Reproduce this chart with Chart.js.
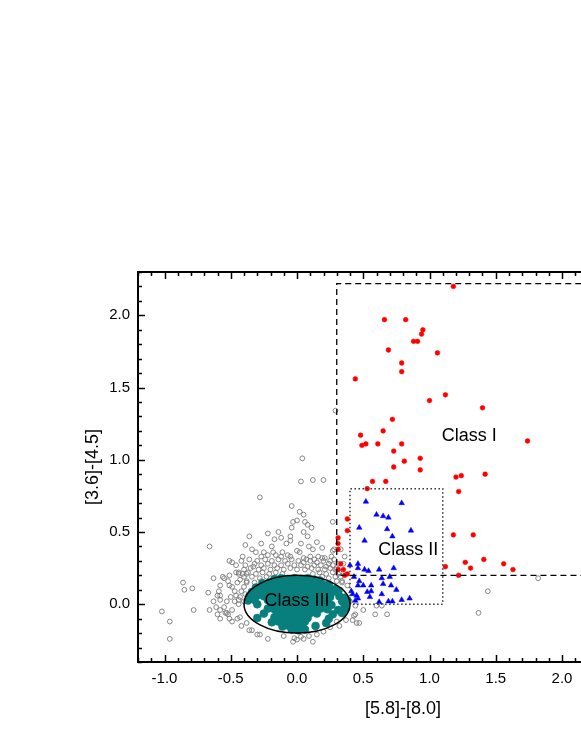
<!DOCTYPE html>
<html>
<head>
<meta charset="utf-8">
<script src="https://cdn.jsdelivr.net/npm/chart.js@4/dist/chart.umd.min.js"></script>
<style>
  body { margin: 0; background: #fff; }
  #wrap { width: 581px; height: 752px; overflow: hidden; position: relative; }
  canvas { position: absolute; left: 0; top: 0; }
</style>
</head>
<body>
<div id="wrap"><canvas id="myChart" width="680" height="752"></canvas></div>
<script>
// axis ranges and ticks
const xMin = -1.2, xMax = 2.8;
const yMin = -0.4, yMax = 2.3;
const xTickVals = [-1.0, -0.5, 0.0, 0.5, 1.0, 1.5, 2.0, 2.5];
const yTickVals = [0.0, 0.5, 1.0, 1.5, 2.0];

// all sources (open grey circles)
const fieldPts = [
  [0.04,1.01],[0.29,1.34],[0.03,0.85],[0.12,0.86],[0.20,0.86],[-0.28,0.74],[-0.04,0.68],[0.02,0.64],[0.05,0.62],
  [-0.03,0.57],[0.00,0.58],[0.06,0.57],[0.08,0.55],[0.11,0.53],[-0.04,0.53],[0.27,0.57],[-0.14,0.50],[-0.12,0.46],
  [-0.05,0.47],[-0.36,0.47],[-0.66,0.40],[-0.22,0.49],[-0.17,0.45],[-0.05,0.44],[0.03,0.42],[0.08,0.47],[-0.27,0.42],
  [-0.19,0.40],[0.15,0.43],[0.05,0.50],
  [-0.39,0.41],[-0.08,0.42],[-0.34,0.38],[-0.31,0.36],[-0.25,0.36],[-0.18,0.36],[-0.11,0.36],[-0.07,0.34],[0.00,0.37],
  [-0.41,0.33],[-0.51,0.30],[-0.49,0.29],[-0.32,0.28],[-0.27,0.33],[-0.22,0.34],[-0.16,0.34],[-0.12,0.33],[-0.05,0.33],
  [0.09,0.40],[0.12,0.38],[0.19,0.39],[0.27,0.37],[0.28,0.38],[0.02,0.36],[0.05,0.32],[0.07,0.31],[0.10,0.33],
  [0.13,0.31],[0.16,0.33],[0.19,0.32],[0.21,0.32],[0.25,0.30],[0.26,0.33],[0.28,0.31],
  [-0.42,0.30],[-0.36,0.31],[-0.30,0.30],[-0.24,0.31],[-0.19,0.30],[-0.14,0.31],[-0.09,0.30],[-0.04,0.31],[0.01,0.30],
  [0.05,0.29],[0.10,0.30],[0.15,0.29],[0.20,0.30],[0.24,0.28],
  [-0.46,0.27],[-0.39,0.27],[-0.33,0.26],[-0.27,0.27],[-0.22,0.28],[-0.17,0.27],[-0.12,0.27],[-0.07,0.28],[-0.02,0.27],
  [0.03,0.27],[0.08,0.26],[0.13,0.27],[0.18,0.27],[0.22,0.26],[0.27,0.27],
  [-0.40,0.24],[-0.35,0.25],[-0.29,0.24],[-0.25,0.25],[-0.20,0.24],[-0.15,0.25],[-0.10,0.24],[-0.05,0.25],[0.00,0.24],
  [0.06,0.24],[0.11,0.25],[0.16,0.24],[0.21,0.24],[0.25,0.25],[0.29,0.24],
  [-0.44,0.22],[-0.37,0.22],[-0.31,0.21],[-0.26,0.22],[-0.21,0.21],[-0.16,0.22],[-0.11,0.21],[0.12,0.21],[0.17,0.22],
  [0.22,0.21],[0.27,0.22],[0.31,0.21],
  [-0.40,0.19],[-0.34,0.19],[-0.28,0.18],[-0.23,0.19],[0.19,0.19],[0.24,0.18],[0.29,0.19],[0.33,0.19],
  [-0.38,0.16],[-0.32,0.15],[-0.27,0.16],[0.24,0.15],[0.30,0.16],[0.34,0.15],
  [-0.86,0.15],[-0.85,0.10],[-0.79,0.11],[-1.02,-0.05],[-0.96,-0.12],[-0.96,-0.24],[-0.78,-0.04],[-0.67,0.08],
  [-0.63,0.18],[-0.56,0.19],[-0.55,0.18],[-0.51,0.20],[-0.46,0.22],[-0.44,0.21],[-0.41,0.21],[-0.38,0.21],
  [-0.59,0.09],[-0.60,0.06],[-0.58,0.06],[-0.58,0.03],[-0.51,0.13],[-0.49,0.12],[-0.50,0.05],[-0.46,0.06],
  [-0.47,0.02],[-0.44,0.03],[-0.44,0.00],[-0.61,-0.02],[-0.58,-0.04],[-0.53,-0.06],[-0.49,-0.04],[-0.52,-0.07],
  [-0.54,-0.06],[-0.58,-0.10],[-0.51,-0.10],[-0.45,-0.10],[-0.43,-0.09],[-0.43,0.05],[-0.42,0.09],[-0.39,0.07],
  [-0.40,0.02],[-0.36,-0.18],[-0.34,-0.18],[-0.38,-0.13],[-0.30,-0.21],[-0.28,-0.21],[-0.22,-0.24],
  [-0.53,0.02],[-0.55,-0.02],[-0.47,0.09],[-0.45,0.15],[-0.52,0.16],[-0.58,0.13],[-0.63,0.02],[-0.66,-0.04],
  [-0.60,-0.07],[-0.49,-0.12],[-0.42,-0.15],[-0.40,0.12],[-0.43,0.17],[-0.38,0.15],
  [0.33,0.10],[0.35,0.05],[0.38,0.13],[0.40,0.02],[0.37,-0.03],[0.34,0.16],[0.30,0.25],[0.32,0.22],[0.35,0.28],
  [0.36,0.33],[0.33,0.38],[0.31,0.28],
  [-0.03,-0.26],[0.05,-0.24],[0.12,-0.26],[-0.02,-0.235],[0.00,-0.245],[0.03,-0.225],[-0.10,-0.22],[0.09,-0.22],
  [0.15,-0.21],[0.20,-0.19],[0.25,-0.16],[0.32,-0.15],[0.37,-0.11],[0.42,-0.11],[0.45,-0.13],[0.47,-0.13],
  [0.44,-0.07],[0.50,-0.04],[0.59,-0.07],[0.68,-0.07],[0.43,-0.08],[0.44,-0.01],[0.64,-0.01],[0.60,-0.01],
  [1.37,-0.06],[1.44,0.09],[1.82,0.18],[0.30,-0.12],[0.36,-0.06]
];

// Class III sources (filled teal)
const class3Pts = [
  [-0.17,0.175],[-0.12,0.18],[-0.07,0.175],[-0.02,0.18],[0.03,0.175],[0.08,0.18],[0.13,0.17],[0.17,0.165],
  [-0.26,0.145],[-0.21,0.15],[-0.16,0.145],[-0.11,0.15],[-0.06,0.145],[-0.01,0.15],[0.04,0.145],[0.09,0.15],
  [0.14,0.145],[0.19,0.14],[0.24,0.135],
  [-0.31,0.115],[-0.26,0.12],[-0.21,0.115],[-0.16,0.12],[-0.11,0.115],[-0.06,0.12],[-0.01,0.115],[0.04,0.12],
  [0.09,0.115],[0.14,0.12],[0.19,0.115],[0.24,0.11],[0.29,0.105],
  [-0.34,0.085],[-0.29,0.09],[-0.24,0.085],[-0.19,0.09],[-0.14,0.085],[-0.09,0.09],[-0.04,0.085],[0.01,0.09],
  [0.06,0.085],[0.11,0.09],[0.16,0.085],[0.21,0.09],[0.26,0.08],[0.31,0.085],
  [-0.36,0.055],[-0.30,0.06],[-0.25,0.055],[-0.20,0.06],[-0.15,0.055],[-0.10,0.06],[-0.05,0.055],[0.00,0.06],
  [0.05,0.055],[0.10,0.06],[0.15,0.055],[0.20,0.06],[0.25,0.05],[0.32,0.055],[0.36,0.045],
  [-0.37,0.025],[-0.32,0.03],[-0.22,0.03],[-0.17,0.025],[-0.12,0.03],[-0.07,0.025],[-0.02,0.03],
  [0.03,0.025],[0.08,0.03],[0.13,0.025],[0.18,0.03],[0.23,0.025],[0.34,0.02],[0.38,0.025],
  [-0.30,0.00],[-0.19,0.00],[-0.14,-0.005],[-0.09,0.00],[-0.04,-0.005],[0.01,0.00],
  [0.06,-0.005],[0.11,0.00],[0.16,-0.005],[0.21,0.00],[0.26,-0.005],[0.36,-0.01],
  [-0.22,-0.03],[-0.17,-0.035],[-0.12,-0.03],[-0.07,-0.035],[-0.02,-0.03],[0.03,-0.035],
  [0.08,-0.03],[0.13,-0.035],[0.18,-0.03],[0.23,-0.035],[0.31,-0.04],[0.37,-0.03],
  [-0.25,-0.065],[-0.15,-0.065],[-0.10,-0.06],[-0.05,-0.065],[0.00,-0.06],[0.05,-0.065],
  [0.10,-0.06],[0.15,-0.065],[0.27,-0.07],[0.34,-0.06],
  [-0.30,-0.095],[-0.17,-0.09],[-0.12,-0.095],[-0.07,-0.09],[-0.02,-0.095],[0.03,-0.09],[0.08,-0.095],
  [0.24,-0.10],
  [-0.19,-0.125],[-0.14,-0.12],[-0.09,-0.125],[-0.04,-0.12],[0.01,-0.125],[0.06,-0.12],[0.22,-0.13],
  [-0.11,-0.155],[-0.06,-0.15],[-0.01,-0.155],[0.04,-0.15],[0.14,-0.15],
  [-0.04,-0.175],[0.01,-0.18],[0.06,-0.175]
];

// Class II sources (blue triangles)
const class2Pts = [
  [0.52,0.71],[0.79,0.70],[0.60,0.62],[0.65,0.61],[0.69,0.60],[0.47,0.53],[0.68,0.52],[0.86,0.51],[0.72,0.47],
  [0.51,0.44],[0.40,0.27],[0.46,0.28],[0.46,0.25],[0.51,0.24],[0.54,0.23],[0.62,0.24],[0.73,0.25],
  [0.43,0.19],[0.47,0.16],[0.64,0.18],[0.70,0.19],[0.46,0.13],[0.50,0.13],[0.56,0.13],[0.65,0.14],[0.71,0.13],
  [0.75,0.10],[0.56,0.09],[0.53,0.085],[0.64,0.07],[0.41,0.09],[0.42,0.07],[0.45,0.06],[0.46,0.04],[0.44,0.025],
  [0.55,0.05],[0.62,0.016],[0.69,0.02],[0.72,0.02],[0.79,0.03],[0.85,0.04]
];

// Class I sources (red dots)
const class1Pts = [
  [1.18,2.20],[0.66,1.97],[0.82,1.97],[0.95,1.90],[0.94,1.87],[0.88,1.82],[0.91,1.82],[0.69,1.76],[1.06,1.74],
  [0.79,1.67],[0.79,1.61],[0.44,1.56],[1.12,1.45],[1.00,1.41],[1.40,1.36],[0.72,1.28],[0.65,1.20],[0.48,1.17],
  [1.74,1.13],[0.49,1.10],[0.52,1.11],[0.61,1.11],[0.79,1.11],[0.73,1.06],[0.93,1.01],[0.81,0.99],[0.73,0.95],
  [0.93,0.93],[1.20,0.88],[1.24,0.89],[1.42,0.90],[0.57,0.85],[0.67,0.85],[0.53,0.80],[1.22,0.78],[0.38,0.59],
  [0.38,0.51],[1.18,0.48],[1.33,0.48],[0.31,0.46],[0.31,0.42],[0.31,0.38],[1.27,0.29],[1.41,0.31],[1.56,0.28],
  [1.63,0.24],[1.31,0.25],[1.12,0.26],[1.22,0.20],[0.33,0.28],[0.35,0.24],[0.31,0.24],[0.38,0.21],[0.36,0.20]
];

// selection boundaries
const class1Box = [[2.9,2.22],[0.3,2.22],[0.3,0.2],[2.9,0.2]];
const class2Box = [[0.4,0.0],[0.4,0.8],[1.1,0.8],[1.1,0.0],[0.4,0.0]];
const class3Ellipse = { cx: 0.0, cy: 0.0, rx: 0.4, ry: 0.2 };
const classLabels = [
  { text: "Class I", x: 1.30, y: 1.165 },
  { text: "Class II", x: 0.84, y: 0.375 },
  { text: "Class III", x: 0.0, y: 0.025 }
];

function toXY(arr) {
  return arr.map(p => ({ x: p[0], y: p[1] }));
}

// frame, inward ticks, ellipse and labels
const decorPlugin = {
  id: "decor",
  afterDatasetsDraw(chart) {
    const ctx = chart.ctx;
    const xs = chart.scales.x, ys = chart.scales.y;
    const a = chart.chartArea;
    ctx.save();

    // ellipse
    const cx = xs.getPixelForValue(class3Ellipse.cx);
    const cy = ys.getPixelForValue(class3Ellipse.cy);
    const rx = xs.getPixelForValue(class3Ellipse.cx + class3Ellipse.rx) - cx;
    const ry = cy - ys.getPixelForValue(class3Ellipse.cy + class3Ellipse.ry);
    ctx.beginPath();
    ctx.ellipse(cx, cy, rx, ry, 0, 0, Math.PI * 2);
    ctx.strokeStyle = "#000";
    ctx.lineWidth = 1.5;
    ctx.stroke();

    // labels
    ctx.fillStyle = "#000";
    ctx.font = "18px 'Liberation Sans', Arial, sans-serif";
    ctx.textAlign = "center";
    ctx.textBaseline = "middle";
    classLabels.forEach(l => {
      ctx.fillText(l.text, xs.getPixelForValue(l.x), ys.getPixelForValue(l.y));
    });

    // frame
    ctx.lineWidth = 2;
    ctx.strokeRect(a.left, a.top, a.right - a.left, a.bottom - a.top);

    // ticks pointing inwards, minor every 0.1
    ctx.lineWidth = 1.5;
    ctx.beginPath();
    for (let i = Math.ceil(xMin * 10); i <= Math.floor(xMax * 10); i++) {
      const px = Math.round(xs.getPixelForValue(i / 10)) + 0.5;
      const len = i % 5 === 0 ? 7 : 4;
      ctx.moveTo(px, a.bottom); ctx.lineTo(px, a.bottom - len);
      ctx.moveTo(px, a.top); ctx.lineTo(px, a.top + len);
    }
    for (let i = Math.ceil(yMin * 10); i <= Math.floor(yMax * 10); i++) {
      const py = Math.round(ys.getPixelForValue(i / 10)) + 0.5;
      const len = i % 5 === 0 ? 7 : 4;
      ctx.moveTo(a.left, py); ctx.lineTo(a.left + len, py);
      ctx.moveTo(a.right, py); ctx.lineTo(a.right - len, py);
    }
    ctx.stroke();
    ctx.restore();
  }
};

const tickFont = { family: "'Liberation Sans', Arial, sans-serif", size: 15 };
const titleFont = { family: "'Liberation Sans', Arial, sans-serif", size: 18 };

const ctx = document.getElementById("myChart").getContext("2d");
const myChart = new Chart(ctx, {
  type: "scatter",
  data: {
    datasets: [
      {
        label: "Class I box",
        type: "line",
        data: toXY(class1Box),
        borderColor: "#000",
        borderWidth: 1.3,
        borderDash: [6, 4],
        pointRadius: 0,
        fill: false,
        tension: 0,
        order: 0,
      },
      {
        label: "Class II box",
        type: "line",
        data: toXY(class2Box),
        borderColor: "#333",
        borderWidth: 1.5,
        borderDash: [1.5, 2.5],
        pointRadius: 0,
        fill: false,
        tension: 0,
        order: 0,
      },
      {
        label: "Class II",
        data: toXY(class2Pts),
        pointStyle: "triangle",
        pointRadius: 3.2,
        backgroundColor: "#0000ff",
        borderColor: "#0000ff",
        borderWidth: 0.5,
        order: 1,
      },
      {
        label: "Class I",
        data: toXY(class1Pts),
        pointRadius: 2.4,
        backgroundColor: "#ff0000",
        borderColor: "#ff0000",
        borderWidth: 0.5,
        order: 2,
      },
      {
        label: "Class III",
        data: toXY(class3Pts),
        pointRadius: 4.0,
        backgroundColor: "#087f7c",
        borderColor: "#087f7c",
        borderWidth: 0.5,
        order: 3,
      },
      {
        label: "All",
        data: toXY(fieldPts),
        pointRadius: 2.4,
        backgroundColor: "rgba(0,0,0,0)",
        borderColor: "#7a7a7a",
        borderWidth: 0.9,
        order: 4,
      },
    ],
  },
  options: {
    responsive: false,
    animation: false,
    layout: { padding: { left: 0, top: 272, right: 12, bottom: 0 } },
    plugins: { legend: { display: false }, tooltip: { enabled: false } },
    scales: {
      x: {
        type: "linear",
        min: xMin,
        max: xMax,
        grid: { display: false, drawTicks: false },
        border: { display: false },
        afterBuildTicks(scale) { scale.ticks = xTickVals.map(v => ({ value: v })); },
        ticks: {
          autoSkip: false,
          maxRotation: 0,
          padding: 8,
          color: "#000",
          font: tickFont,
          callback: v => v.toFixed(1),
        },
        title: { display: true, text: "[5.8]-[8.0]", color: "#000", font: titleFont, padding: { top: 0, bottom: 32 } },
        afterFit(scale) { scale.height = 90; },
      },
      y: {
        type: "linear",
        min: yMin,
        max: yMax,
        grid: { display: false, drawTicks: false },
        border: { display: false },
        afterBuildTicks(scale) { scale.ticks = yTickVals.map(v => ({ value: v })); },
        ticks: {
          autoSkip: false,
          padding: 8,
          color: "#000",
          font: tickFont,
          callback: v => v.toFixed(1),
        },
        title: { display: true, text: "[3.6]-[4.5]", color: "#000", font: titleFont, padding: { top: 82, bottom: 0 } },
        afterFit(scale) { scale.width = 138; },
      },
    },
  },
  plugins: [decorPlugin],
});
</script>
</body>
</html>
